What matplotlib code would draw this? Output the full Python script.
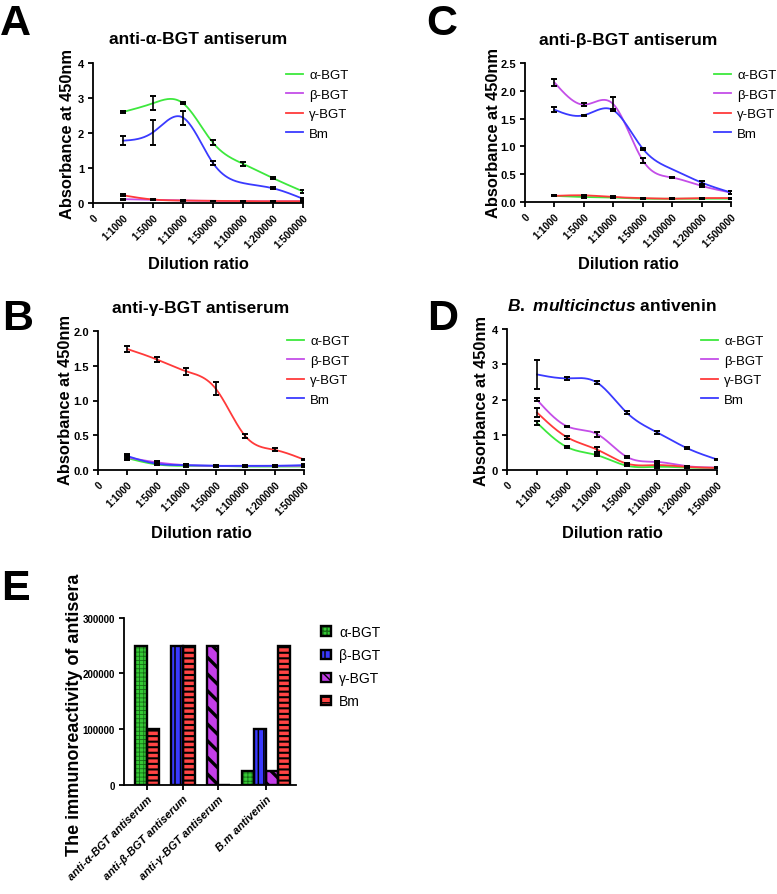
"""ELISA titration curves (A-D) and antiserum titers (E)."""
import numpy as np
import matplotlib
matplotlib.use("Agg")
import matplotlib.pyplot as plt
from matplotlib.lines import Line2D
from matplotlib.patches import Patch
from matplotlib.legend_handler import HandlerTuple

plt.rcParams['font.family'] = ['Liberation Sans', 'DejaVu Sans']
plt.rcParams['mathtext.fontset'] = 'custom'
plt.rcParams['mathtext.it'] = 'Liberation Sans:italic:bold'
plt.rcParams['mathtext.rm'] = 'Liberation Sans:bold'

W, H = 777, 895

# ---------------------------------------------------------------- data
dilutions = ['0', '1:1000', '1:5000', '1:10000', '1:50000', '1:100000', '1:200000', '1:500000']
series = ['α-BGT', 'β-BGT', 'γ-BGT', 'Bm']
colors = ['#3de83d', '#c44ee8', '#ff3a3a', '#3a3aff']

# panel A: anti-alpha-BGT antiserum (mean, sd)
a_alpha = [2.60, 2.85, 2.85, 1.72, 1.12, 0.71, 0.33]
a_alpha_sd = [0.03, 0.20, 0.03, 0.07, 0.05, 0.03, 0.03]
a_beta = [0.11, 0.09, 0.07, 0.06, 0.05, 0.05, 0.05]
a_beta_sd = [0.01, 0.01, 0.01, 0.01, 0.01, 0.01, 0.01]
a_gamma = [0.22, 0.10, 0.07, 0.06, 0.05, 0.05, 0.05]
a_gamma_sd = [0.03, 0.01, 0.01, 0.01, 0.01, 0.01, 0.01]
a_bm = [1.78, 2.02, 2.44, 1.14, 0.57, 0.42, 0.12]
a_bm_sd = [0.13, 0.36, 0.20, 0.05, np.nan, 0.03, 0.03]

# panel C: anti-beta-BGT antiserum
c_alpha = [0.11, 0.09, 0.08, 0.06, 0.06, 0.06, 0.06]
c_alpha_sd = [0.01, 0.02, 0.01, 0.01, 0.01, 0.01, 0.01]
c_beta = [2.15, 1.75, 1.76, 0.75, 0.44, 0.29, 0.17]
c_beta_sd = [0.06, 0.03, 0.12, 0.05, 0.01, 0.02, 0.02]
c_gamma = [0.11, 0.12, 0.09, 0.07, 0.06, 0.07, 0.07]
c_gamma_sd = [0.01, 0.01, 0.01, 0.01, 0.01, 0.01, 0.01]
c_bm = [1.66, 1.56, 1.65, 0.96, 0.59, 0.35, 0.17]
c_bm_sd = [0.05, 0.01, 0.02, 0.02, np.nan, 0.02, 0.02]

# panel B: anti-gamma-BGT antiserum
b_alpha = [0.17, 0.08, 0.06, 0.06, 0.05, 0.05, 0.05]
b_alpha_sd = [0.03, 0.01, 0.01, 0.01, 0.01, 0.01, 0.01]
b_beta = [0.18, 0.11, 0.07, 0.06, 0.06, 0.06, 0.06]
b_beta_sd = [0.03, 0.02, 0.01, 0.01, 0.01, 0.01, 0.01]
b_gamma = [1.74, 1.59, 1.42, 1.17, 0.49, 0.29, 0.15]
b_gamma_sd = [0.04, 0.03, 0.05, 0.09, 0.03, 0.02, 0.01]
b_bm = [0.20, 0.09, 0.07, 0.06, 0.06, 0.06, 0.07]
b_bm_sd = [0.03, 0.02, 0.01, 0.01, 0.01, 0.01, 0.01]

# panel D: B. multicinctus antivenin
d_alpha = [1.34, 0.65, 0.42, 0.12, 0.09, 0.07, 0.06]
d_alpha_sd = [0.05, 0.03, 0.02, 0.02, 0.02, 0.01, 0.01]
d_beta = [1.99, 1.24, 1.02, 0.37, 0.23, 0.11, 0.07]
d_beta_sd = [0.04, 0.01, 0.07, 0.04, 0.03, 0.01, 0.01]
d_gamma = [1.63, 0.93, 0.58, 0.18, 0.14, 0.09, 0.06]
d_gamma_sd = [0.13, 0.04, 0.06, 0.02, 0.03, 0.01, 0.01]
d_bm = [2.71, 2.60, 2.48, 1.62, 1.07, 0.62, 0.30]
d_bm_sd = [0.40, 0.05, 0.05, 0.04, 0.05, 0.03, 0.01]

# panel E: titers
groups = ['anti-α-BGT antiserum', 'anti-β-BGT antiserum', 'anti-γ-BGT antiserum', 'B.m antivenin']
titer_alpha = [250000, None, None, 25000]
titer_beta = [None, 250000, None, 100000]
titer_gamma = [None, None, 250000, 25000]
titer_bm = [100000, 250000, 0, 250000]


def px_axes(fig, x0, x1, ytop, ybot):
    return fig.add_axes([x0 / W, 1 - ybot / H, (x1 - x0) / W, (ybot - ytop) / H])


def smooth(y, n=300):
    # natural cubic spline through the means, like Prism's smoothed line
    y = np.asarray(y, float)
    m = len(y)
    A = np.zeros((m, m))
    rhs = np.zeros(m)
    A[0, 0] = A[-1, -1] = 1
    for i in range(1, m - 1):
        A[i, i - 1], A[i, i], A[i, i + 1] = 1, 4, 1
        rhs[i] = 6 * (y[i + 1] - 2 * y[i] + y[i - 1])
    M = np.linalg.solve(A, rhs)
    xs = np.linspace(1, m, n)
    idx = np.clip(np.floor(xs - 1).astype(int), 0, m - 2)
    t = xs - (idx + 1)
    ys = (M[idx] * (1 - t) ** 3 / 6 + M[idx + 1] * t ** 3 / 6
          + (y[idx] - M[idx] / 6) * (1 - t) + (y[idx + 1] - M[idx + 1] / 6) * t)
    return xs, ys


def style_axes(ax):
    for s in ['top', 'right']:
        ax.spines[s].set_visible(False)
    for s in ['left', 'bottom']:
        ax.spines[s].set_linewidth(1.3)
    ax.tick_params(width=1.3, length=3.5, direction='out', pad=3)


def curve_panel(fig, box, data, ymax, yticks, yfmt, title, title_xy, ylab_xy, xlab_xy, leg_xy):
    ax = px_axes(fig, *box)
    xpos = np.arange(1, 8)
    for (mean, sd), c in zip(data, colors):
        xs, ys = smooth(mean)
        ax.plot(xs, ys, color=c, lw=1.3, zorder=2)
        ax.errorbar(xpos, mean, yerr=sd, fmt='none', ecolor='black', elinewidth=1.2,
                    capsize=2.4, capthick=1.4, zorder=3)
    ax.set_xlim(0, 7)
    ax.set_ylim(0, ymax)
    ax.set_xticks(range(8))
    ax.set_xticklabels(dilutions, rotation=45, ha='right', rotation_mode='anchor',
                       fontsize=7.3, fontweight='bold')
    ax.set_yticks(yticks)
    ax.set_yticklabels([yfmt.format(v) for v in yticks], fontsize=8, fontweight='bold')
    style_axes(ax)
    fig.text(title_xy[0] / W, 1 - title_xy[1] / H, title, ha='center', va='center',
             fontsize=12.5, fontweight='bold')
    fig.text(ylab_xy[0] / W, 1 - ylab_xy[1] / H, 'Absorbance at 450nm', rotation=90,
             ha='center', va='center', fontsize=11.8, fontweight='bold')
    fig.text(xlab_xy[0] / W, 1 - xlab_xy[1] / H, 'Dilution ratio', ha='center', va='center',
             fontsize=11.8, fontweight='bold')
    handles = [Line2D([], [], color=c, lw=1.3) for c in colors]
    ax.legend(handles, series, loc='upper left', bbox_to_anchor=(leg_xy[0] / W, 1 - leg_xy[1] / H),
              bbox_transform=fig.transFigure, frameon=False, fontsize=9.5, borderpad=0,
              borderaxespad=0, handlelength=1.3, handletextpad=0.45, labelspacing=0.55)
    return ax


fig = plt.figure(figsize=(W / 100, H / 100), dpi=100)

curve_panel(fig, (93, 303, 64, 204),
            [(a_alpha, a_alpha_sd), (a_beta, a_beta_sd), (a_gamma, a_gamma_sd), (a_bm, a_bm_sd)],
            4, [0, 1, 2, 3, 4], '{:.0f}', 'anti-α-BGT antiserum', (198, 40), (67, 134), (198, 265),
            (286, 70))
curve_panel(fig, (525, 731, 64, 203),
            [(c_alpha, c_alpha_sd), (c_beta, c_beta_sd), (c_gamma, c_gamma_sd), (c_bm, c_bm_sd)],
            2.5, [0, 0.5, 1.0, 1.5, 2.0, 2.5], '{:.1f}', 'anti-β-BGT antiserum', (628, 40),
            (493, 133), (628, 265), (714, 70))
curve_panel(fig, (98, 304, 332, 471),
            [(b_alpha, b_alpha_sd), (b_beta, b_beta_sd), (b_gamma, b_gamma_sd), (b_bm, b_bm_sd)],
            2.0, [0, 0.5, 1.0, 1.5, 2.0], '{:.1f}', 'anti-γ-BGT antiserum', (201, 308),
            (66, 400), (201, 533), (287, 336))
curve_panel(fig, (507, 717, 330, 471),
            [(d_alpha, d_alpha_sd), (d_beta, d_beta_sd), (d_gamma, d_gamma_sd), (d_bm, d_bm_sd)],
            4, [0, 1, 2, 3, 4], '{:.0f}', r'$\mathit{B.\ multicinctus}$ antivenin', (612, 306),
            (482, 401), (612, 533), (701, 336))

# ---------------------------------------------------------------- panel E
axE = px_axes(fig, 124, 296, 618.7, 785.7)
bar_styles = [  # face, hatch, hatch colour, hatch width
    ('#35c935', '++++', '#156b15', 0.6),
    ('#3a3aff', '|||', 'black', 1.1),
    ('#c43ee8', '\\\\', 'black', 2.4),
    ('#ff4444', '---', 'black', 1.5),
]
titers = [titer_alpha, titer_beta, titer_gamma, titer_bm]


def hatched_bar(ax, x, h, face, hatch, hcol, hlw):
    with plt.rc_context({'hatch.linewidth': hlw, 'hatch.color': hcol}):
        b = ax.bar(x, h, width=1, color=face, hatch=hatch, edgecolor=hcol, linewidth=0, zorder=2)
    for p in b:
        if hasattr(p, 'set_hatch_linewidth'):
            p.set_hatch_linewidth(hlw)
    ax.bar(x, h, width=1, fill=False, edgecolor='black', linewidth=1.7, zorder=3)


slot = 0
tick_pos = []
for g in range(len(groups)):
    centers = []
    for vals, st in zip(titers, bar_styles):
        if vals[g] is None:
            continue
        hatched_bar(axE, slot + 0.5, vals[g], *st)
        centers.append(slot + 0.5)
        slot += 1
    tick_pos.append(np.mean(centers))
    slot += 1

axE.set_xlim(-0.92, 13.5)
axE.set_ylim(0, 300000)
axE.set_yticks([0, 100000, 200000, 300000])
axE.set_yticklabels(['0', '100000', '200000', '300000'], fontsize=7, fontweight='bold')
axE.set_xticks(tick_pos)
axE.set_xticklabels(groups, rotation=45, ha='right', rotation_mode='anchor', fontsize=8,
                    fontweight='bold', fontstyle='italic')
style_axes(axE)
fig.text(75 / W, 1 - 715 / H, 'The immunoreactivity of antisera', rotation=90, ha='center',
         va='center', fontsize=13, fontweight='bold')

handlesE = []
for face, hatch, hcol, hlw in bar_styles:
    handlesE.append((Patch(facecolor=face, hatch=hatch, edgecolor=hcol, linewidth=0),
                     Patch(fill=False, edgecolor='black', linewidth=1.7)))
axE.legend(handlesE, series, handler_map={tuple: HandlerTuple(ndivide=1)}, loc='upper left',
           bbox_to_anchor=(321 / W, 1 - 626 / H), bbox_transform=fig.transFigure, frameon=False,
           fontsize=10, borderpad=0, borderaxespad=0,
           handlelength=0.75, handleheight=0.65, handletextpad=0.55, labelspacing=0.65)

# panel letters
for letter, x, y in [('A', 0, 4), ('C', 426, 4), ('B', 2, 299), ('D', 427, 299), ('E', 1, 569)]:
    fig.text(x / W, 1 - y / H, letter, ha='left', va='top', fontsize=31, fontweight='bold')

fig.savefig('out.png', dpi=100)
